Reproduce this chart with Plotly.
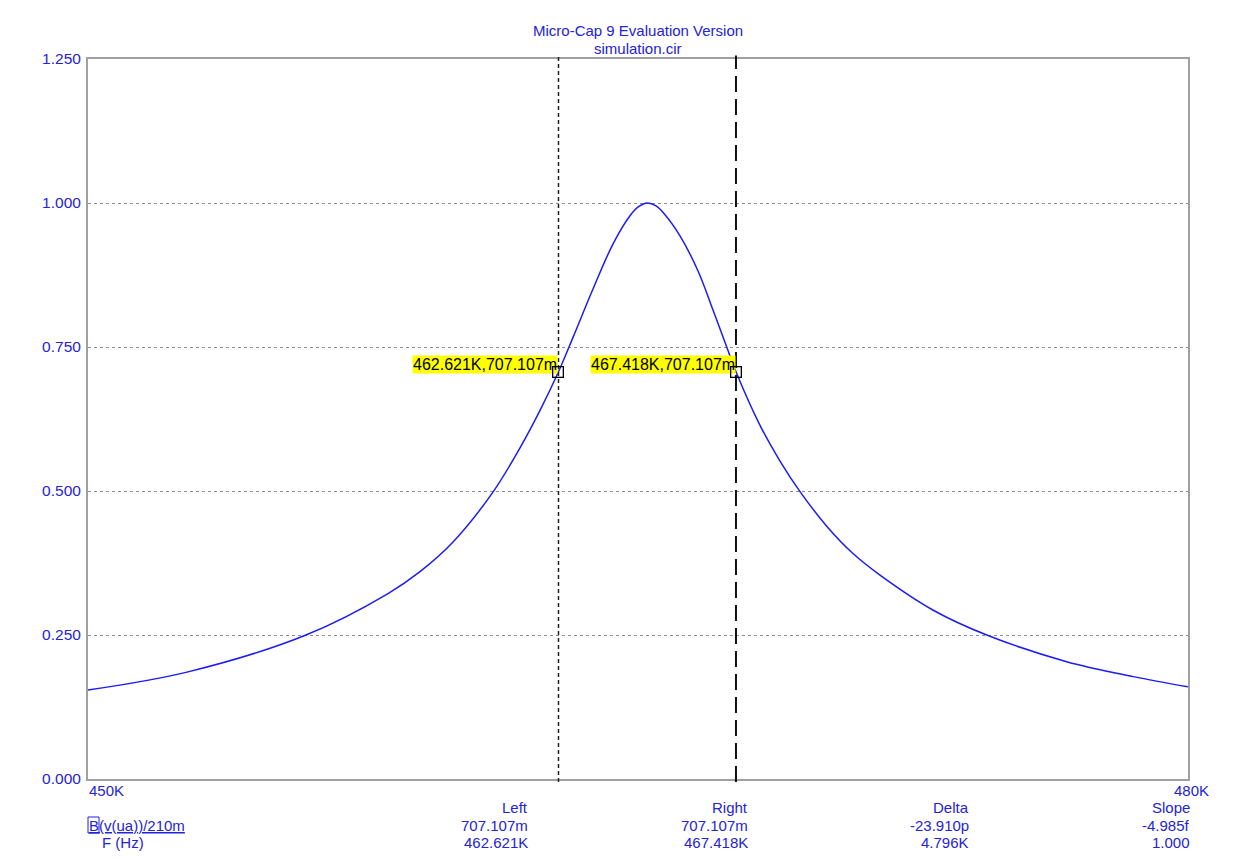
import plotly.graph_objects as go

# ---- data (frequency in kHz, normalized amplitude) ----
freq_khz = [449.905, 452.608, 455.797, 458.014, 458.878, 459.778, 460.859,
            461.581, 462.122, 462.621, 463.022, 463.562, 464.103, 464.554, 464.797,
            465.022, 465.257, 465.454, 465.905, 466.392, 466.805, 467.168, 467.418,
            468.068, 468.608, 469.149, 469.870, 470.589, 471.311, 472.751, 474.195,
            476.357, 478.157, 479.635]
vout = [0.1545, 0.186, 0.250, 0.322, 0.360, 0.412, 0.499,
        0.575, 0.640, 0.707, 0.768, 0.852, 0.930, 0.978, 0.994,
        1.000, 0.995, 0.983, 0.943, 0.882, 0.813, 0.750, 0.707,
        0.614, 0.552, 0.499, 0.439, 0.391, 0.354, 0.293, 0.250,
        0.2037, 0.1777, 0.160]

cursor_freq = [462.621, 467.418]
cursor_val = [0.707107, 0.707107]
cursor_labels = ["462.621K,707.107m", "467.418K,707.107m"]

y_ticks = [0.0, 0.25, 0.5, 0.75, 1.0, 1.25]
y_tick_text = ["0.000", "0.250", "0.500", "0.750", "1.000", "1.250"]
x_range = [449.905, 479.635]
x_edge_labels = ["450K", "480K"]

title_lines = ["Micro-Cap 9 Evaluation Version", "simulation.cir"]
table_header = ["Left", "Right", "Delta", "Slope"]
row_b_name = "B(v(ua))/210m"
row_b = ["707.107m", "707.107m", "-23.910p", "-4.985f"]
row_f_name = "F (Hz)"
row_f = ["462.621K", "467.418K", "4.796K", "1.000"]

# ---- styling ----
BLUE_TXT = "#2323d8"
CURVE = "#1c1cf5"
FONT = "Liberation Sans, Arial, sans-serif"
W, H = 1243, 864
L, R, T, B = 88, 1188, 59, 779


def px(x):
    return (x - L) / (R - L)


def py(y):
    return (B - y) / (B - T)


fig = go.Figure()

fig.add_trace(go.Scatter(x=freq_khz, y=vout, mode="lines",
                         line=dict(color=CURVE, width=1.5, shape="spline", smoothing=1.0),
                         hoverinfo="skip", showlegend=False))

shapes = [
    dict(type="line", xref="x", yref="paper", x0=cursor_freq[0], x1=cursor_freq[0],
         y0=-0.004, y1=1.005, line=dict(color="#222222", width=1.5, dash="4px,3px")),
    dict(type="line", xref="x", yref="paper", x0=cursor_freq[1], x1=cursor_freq[1],
         y0=-0.004, y1=1.005, line=dict(color="#111111", width=2, dash="16px,7px")),
    dict(type="rect", xref="paper", yref="paper", x0=px(88), x1=px(99),
         y0=py(833), y1=py(817), line=dict(color=BLUE_TXT, width=1)),
]

annotations = []
for f, v, t in zip(cursor_freq, cursor_val, cursor_labels):
    annotations.append(dict(x=f, y=v, xref="x", yref="y", text=t, showarrow=False,
                            xanchor="right", yanchor="bottom", yshift=-2,
                            bgcolor="#ffff00", borderpad=0,
                            font=dict(family=FONT, size=16, color="black")))
# open square cursor markers, drawn above the labels
for f, v in zip(cursor_freq, cursor_val):
    annotations.append(dict(x=f, y=v, xref="x", yref="y", text=" ", showarrow=False,
                            xanchor="center", yanchor="middle", width=9, height=9,
                            borderwidth=1.3, bordercolor="black", borderpad=0,
                            font=dict(size=6)))

annotations.append(dict(x=0.5, y=py(31), xref="paper", yref="paper", text=title_lines[0],
                        showarrow=False, xanchor="center", yanchor="middle",
                        font=dict(family=FONT, size=15, color=BLUE_TXT)))
annotations.append(dict(x=0.5, y=py(48), xref="paper", yref="paper", text=title_lines[1],
                        showarrow=False, xanchor="center", yanchor="middle",
                        font=dict(family=FONT, size=15, color=BLUE_TXT)))

annotations.append(dict(x=px(87), y=py(790), xref="paper", yref="paper", text=x_edge_labels[0],
                        showarrow=False, xanchor="left", yanchor="middle",
                        font=dict(family=FONT, size=15, color=BLUE_TXT)))
annotations.append(dict(x=px(1211), y=py(790), xref="paper", yref="paper", text=x_edge_labels[1],
                        showarrow=False, xanchor="right", yanchor="middle",
                        font=dict(family=FONT, size=15, color=BLUE_TXT)))

col_right = [530, 750, 971, 1192]
for row_y, items in [(807, table_header), (825, row_b), (843, row_f)]:
    for xr, t in zip(col_right, items):
        annotations.append(dict(x=px(xr), y=py(row_y), xref="paper", yref="paper", text=t,
                                showarrow=False, xanchor="right", yanchor="middle",
                                font=dict(family=FONT, size=15, color=BLUE_TXT)))

annotations.append(dict(x=px(87), y=py(825), xref="paper", yref="paper",
                        text="<u>" + row_b_name + "</u>",
                        showarrow=False, xanchor="left", yanchor="middle",
                        font=dict(family=FONT, size=15, color=BLUE_TXT)))
annotations.append(dict(x=px(100), y=py(843), xref="paper", yref="paper", text=row_f_name,
                        showarrow=False, xanchor="left", yanchor="middle",
                        font=dict(family=FONT, size=15, color=BLUE_TXT)))

fig.update_layout(
    width=W, height=H, autosize=False,
    margin=dict(l=L, r=W - R, t=T, b=H - B, pad=0),
    plot_bgcolor="white", paper_bgcolor="white",
    shapes=shapes, annotations=annotations,
    font=dict(family=FONT, color=BLUE_TXT),
    xaxis=dict(range=x_range, showgrid=False, showticklabels=False, zeroline=False,
               showline=True, linecolor="#a0a0a0", linewidth=2, mirror=True, ticks=""),
    yaxis=dict(range=[0, 1.25], tickvals=y_ticks, ticktext=y_tick_text,
               showgrid=True, gridcolor="#8c8c8c", gridwidth=1, griddash="3px,3px",
               zeroline=False, showline=True, linecolor="#a0a0a0", linewidth=2,
               mirror=True, ticks="", ticklabelstandoff=2,
               tickfont=dict(family=FONT, size=15.5, color=BLUE_TXT)),
)

fig.write_html("out.html")
